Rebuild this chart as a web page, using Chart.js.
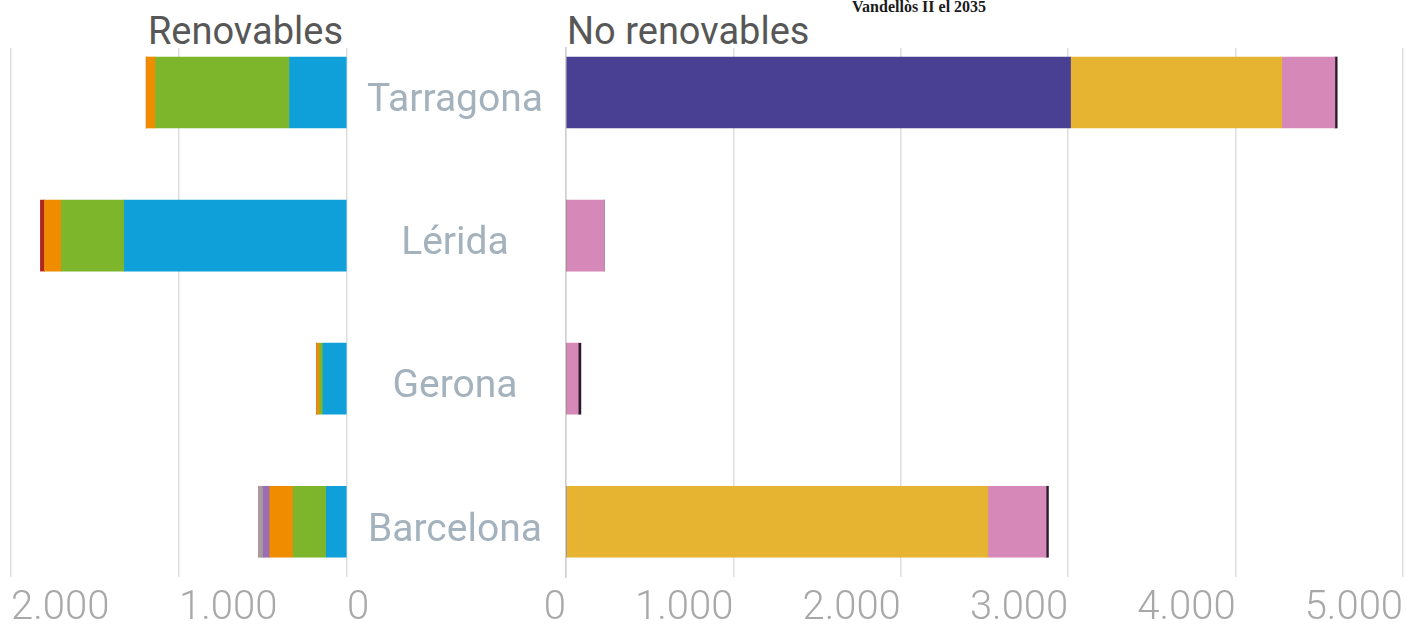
<!DOCTYPE html>
<html lang="es">
<head>
<meta charset="utf-8">
<title>Potencia instalada por provincia</title>
<script src="https://cdn.jsdelivr.net/npm/chart.js@4.4.1/dist/chart.umd.min.js"></script>
<style>
  html, body { margin: 0; padding: 0; background: #ffffff; }
  #wrap { position: relative; width: 1411px; height: 625px; overflow: hidden; background: #ffffff; }
  canvas { position: absolute; top: 0; }
  #cvLeft { left: 0; }
  #cvRight { left: 347px; }
  .head { position: absolute; font-family: Roboto, "Noto Sans", sans-serif; font-size: 38px; line-height: 38px; color: #575757; white-space: nowrap; }
  #hLeft { right: 1068px; top: 12px; }
  #hRight { left: 567px; top: 12px; }
  #note { position: absolute; left: 852px; top: -1px; font-family: "Liberation Serif", "DejaVu Serif", serif; font-weight: bold; font-size: 16px; line-height: 16px; color: #1a1a1a; white-space: nowrap; }
</style>
</head>
<body>
<div id="wrap">
  <div id="note">Vandellòs II el 2035</div>
  <div class="head" id="hLeft">Renovables</div>
  <div class="head" id="hRight">No renovables</div>
  <canvas id="cvLeft" width="400" height="625"></canvas>
  <canvas id="cvRight" width="1064" height="625"></canvas>
</div>
<script>
// Provincias (de arriba abajo)
const provincias = ['Tarragona', 'Lérida', 'Gerona', 'Barcelona'];

// Renovables (MW)
const hidraulica   = [342, 1325, 143, 123];
const eolica       = [798, 375, 20, 198];
const solarFV      = [55, 101, 18, 139];
const biomasa      = [0, 0, 0, 39];
const biogas       = [0, 0, 0, 26];
const solarTermica = [0, 24, 0, 0];

// No renovables (MW)
const nuclear         = [3014, 0, 0, 0];
const cicloCombinado  = [1262, 0, 0, 2520];
const cogeneracion    = [317, 228, 73, 348];
const otras           = [14, 0, 16, 14];

// Marcas del eje de valores
const ticksRenovables   = [0, 1000, 2000];
const ticksNoRenovables = [0, 1000, 2000, 3000, 4000, 5000];

const fmt = v => String(v).replace(/\B(?=(\d{3})+(?!\d))/g, '.');
const toPoints = arr => arr.map((v, i) => ({ x: v, y: i }));

const GRID = '#dedede';
const TICK_COLOR = '#a8a8a8';
const LABEL_COLOR = '#a3b2bd';
const BAR_THICK = 71;
// Rango del eje de provincias (índices 0..3 con margen arriba y abajo)
const Y_MIN = -0.311;
const Y_MAX = 3.386;

function dataset(label, values, color) {
  return {
    label,
    data: toPoints(values),
    backgroundColor: color,
    borderWidth: 0,
    barThickness: BAR_THICK
  };
}

function valueAxis(max, ticksList, align) {
  return {
    type: 'linear',
    stacked: true,
    min: 0,
    max: max,
    afterBuildTicks: s => {
      s.ticks = ticksList.map(v => ({ value: v }));
      s.min = 0;
      s.max = max;
    },
    afterFit: s => { s.height = 48; },
    grid: { color: GRID, lineWidth: 1.5, drawTicks: false },
    border: { display: false },
    ticks: {
      align: align,
      padding: 8,
      color: TICK_COLOR,
      font: { family: 'Roboto', size: 40, weight: 300 },
      callback: v => fmt(v)
    }
  };
}

function indexAxis(show) {
  return {
    type: 'linear',
    stacked: true,
    reverse: true,
    offset: false,
    min: Y_MIN,
    max: Y_MAX,
    display: show,
    afterBuildTicks: s => {
      s.ticks = provincias.map((_, i) => ({ value: i }));
      s.min = Y_MIN;
      s.max = Y_MAX;
    },
    afterFit: s => { if (show) s.width = 219; },
    grid: { display: false, drawTicks: false, offset: false },
    border: { display: show, color: '#cfcfcf', width: 1.5 },
    ticks: {
      crossAlign: 'center',
      padding: 23,
      labelOffset: 9,
      color: LABEL_COLOR,
      font: { family: 'Roboto', size: 39, weight: 400 },
      callback: v => provincias[v]
    }
  };
}

const common = {
  indexAxis: 'y',
  responsive: false,
  animation: false,
  devicePixelRatio: 1,
  plugins: { legend: { display: false }, tooltip: { enabled: false } }
};

// Renovables: eje invertido, crece hacia la izquierda
new Chart(document.getElementById('cvLeft'), {
  type: 'bar',
  data: {
    datasets: [
      dataset('Hidráulica', hidraulica, '#0fa0d9'),
      dataset('Eólica', eolica, '#7db62b'),
      dataset('Solar fotovoltaica', solarFV, '#f08c00'),
      dataset('Biomasa', biomasa, '#9b6eb4'),
      dataset('Biogás', biogas, '#a49b9d'),
      dataset('Solar termoeléctrica', solarTermica, '#b1261d')
    ]
  },
  options: Object.assign({}, common, {
    layout: { padding: { top: 48, left: 11, right: 53, bottom: 0 } },
    scales: {
      x: Object.assign(valueAxis(2000, ticksRenovables, 'start'), { reverse: true }),
      y: indexAxis(false)
    }
  })
});

// No renovables
new Chart(document.getElementById('cvRight'), {
  type: 'bar',
  data: {
    datasets: [
      dataset('Nuclear', nuclear, '#4a4093'),
      dataset('Ciclo combinado', cicloCombinado, '#e6b430'),
      dataset('Cogeneración', cogeneracion, '#d688b8'),
      dataset('Otras', otras, '#2b1b2b')
    ]
  },
  options: Object.assign({}, common, {
    layout: { padding: { top: 48, left: 0, right: 5, bottom: 0 } },
    scales: {
      x: valueAxis(5000, ticksNoRenovables, 'end'),
      y: indexAxis(true)
    }
  })
});
</script>
</body>
</html>
